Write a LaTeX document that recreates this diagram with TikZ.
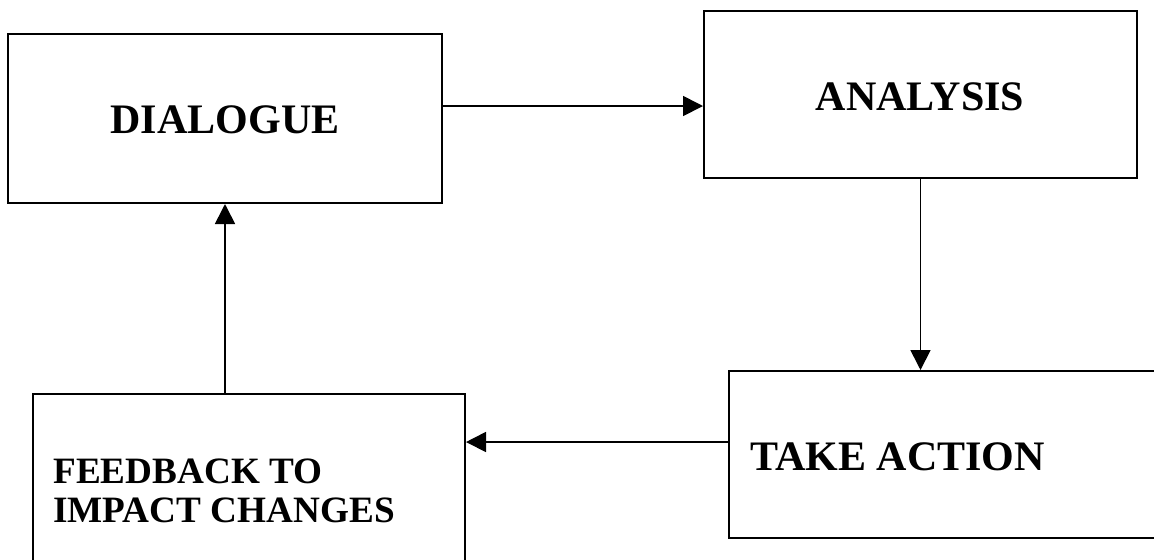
\documentclass[tikz,border=0pt]{standalone}
\usepackage{fontspec}
\setmainfont{Liberation Serif}
\usetikzlibrary{arrows.meta}
\begin{document}
\begin{tikzpicture}[x=0.5pt,y=-0.5pt,
  box/.style={draw=black, line width=1pt, rectangle, inner sep=0pt, fill=none},
  bigtxt/.style={font=\fontsize{21}{25}\selectfont\bfseries, inner sep=0pt},
  smalltxt/.style={font=\fontsize{18.6}{19.5}\selectfont\bfseries, inner sep=0pt, align=left},
  arr/.style={line width=0.85pt, -{Triangle[length=10pt,width=10pt]}}]
\useasboundingbox (0,0) rectangle (1154,559);
\clip (0,0) rectangle (1154,559);
\fill[white] (0,0) rectangle (1154,559);
% boxes
\node[box, minimum width=217pt, minimum height=84.5pt] (dia) at (225,118.5) {};
\node[box, minimum width=216.5pt, minimum height=83.5pt] (ana) at (920.5,94.5) {};
\node[box, minimum width=218pt, minimum height=83.5pt] (act) at (947,454.5) {};
\node[box, minimum width=216pt, minimum height=85.5pt] (fb) at (249,479.5) {};
% texts
\node[bigtxt, anchor=base] (tdia) at (225,133) {DIALOGUE};
\node[bigtxt, anchor=base] (tana) at (920,110) {ANALYSIS};
\node[bigtxt, anchor=base west] (tact) at (750,470) {TAKE ACTION};
\node[smalltxt, anchor=base west] (tfb) at (53,522) {FEEDBACK TO\\IMPACT CHANGES};
% connectors
\coordinate (y1) at (0,106);
\coordinate (y3) at (0,442);
\draw[arr] (dia.east |- y1) -- (ana.west |- y1);
\draw[arr] (ana.south) -- (ana.south |- act.north);
\draw[arr] (act.west |- y3) -- (fb.east |- y3);
\draw[arr] (dia.south |- fb.north) -- (dia.south);
\end{tikzpicture}
\end{document}
